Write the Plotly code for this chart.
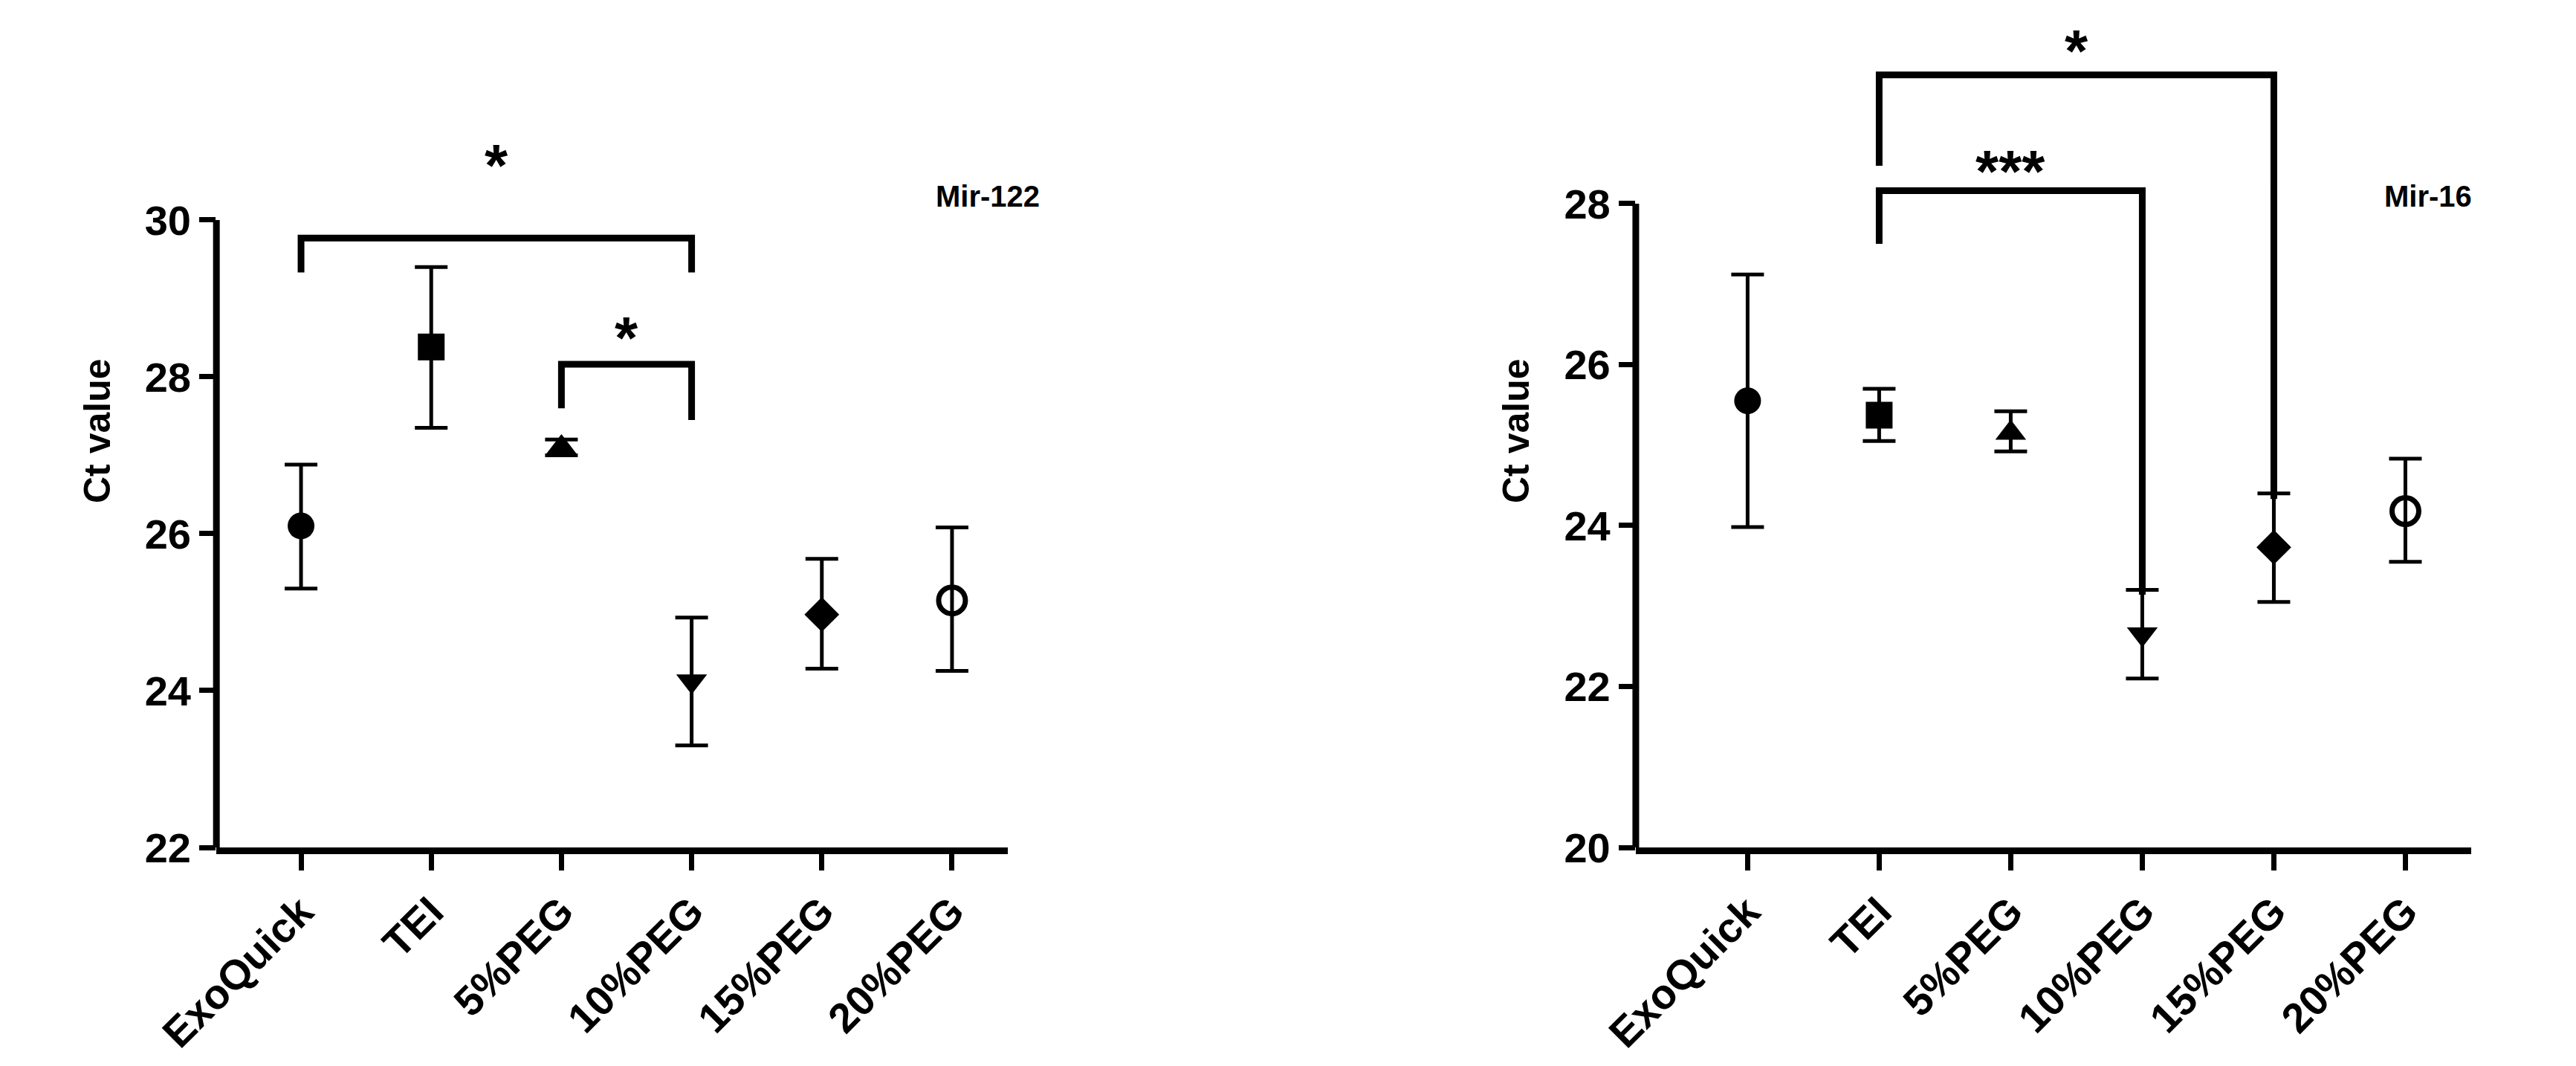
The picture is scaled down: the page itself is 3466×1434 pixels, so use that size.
import plotly.graph_objects as go

categories = ["ExoQuick", "TEI", "5%PEG", "10%PEG", "15%PEG", "20%PEG"]
symbols = ["circle", "square", "triangle-up", "triangle-down", "diamond", "circle-open"]

mir122_mean = [26.1, 28.38, 27.1, 24.12, 24.97, 25.15]
mir122_hi = [26.88, 29.4, 27.2, 24.93, 25.68, 26.08]
mir122_lo = [25.3, 27.35, 27.0, 23.3, 24.28, 24.25]

mir16_mean = [25.55, 25.37, 25.15, 22.65, 23.73, 24.18]
mir16_hi = [27.12, 25.7, 25.42, 23.2, 24.4, 24.83]
mir16_lo = [23.98, 25.05, 24.92, 22.1, 23.05, 23.55]

# brackets: (x1, x2, y_top, y_leg1, y_leg2, label, y_label)
brackets_122 = [(0, 3, 29.77, 29.33, 29.33, "*", 30.7), (2, 3, 28.16, 27.6, 27.45, "*", 28.5)]
brackets_16 = [(1, 4, 29.6, 28.47, 24.33, "*", 29.9), (1, 3, 28.16, 27.5, 23.14, "***", 28.4)]

fig = go.Figure()
BK = "black"
for i, (mean, hi, lo, xa, ya) in enumerate([(mir122_mean, mir122_hi, mir122_lo, "x", "y"),
                                             (mir16_mean, mir16_hi, mir16_lo, "x2", "y2")]):
    for j, c in enumerate(categories):
        fig.add_trace(go.Scatter(
            x=[j], y=[mean[j]], mode="markers", xaxis=xa, yaxis=ya, showlegend=False,
            marker=dict(symbol=symbols[j], size=36, color=BK,
                        line=dict(color=BK, width=7 if symbols[j] == "circle-open" else 0)),
            error_y=dict(type="data", symmetric=False, array=[hi[j] - mean[j]],
                         arrayminus=[mean[j] - lo[j]], color=BK, thickness=5, width=22)))

shapes = []
annos = []
for xr, yr, br, ymin, ymax in [("x", "y", brackets_122, 22, 30), ("x2", "y2", brackets_16, 20, 28)]:
    for (x1, x2, yt, l1, l2, lab, yl) in br:
        shapes.append(dict(type="path", xref=xr, yref=yr,
                           path=f"M {x1},{l1} L {x1},{yt} L {x2},{yt} L {x2},{l2}",
                           line=dict(color=BK, width=9)))
        annos.append(dict(x=(x1 + x2) / 2, y=yl, xref=xr, yref=yr, text=f"<b>{lab}</b>", showarrow=False,
                          font=dict(size=80, color=BK, family="Liberation Sans"), yanchor="middle"))
    shapes.append(dict(type="line", xref=xr + " domain", yref=yr, x0=0, x1=0, y0=ymin, y1=ymax,
                       line=dict(color=BK, width=9)))

annos.append(dict(x=0.381, y=0.838, xref="paper", yref="paper", text="<b>Mir-122</b>",
                  showarrow=False, font=dict(size=40, color=BK)))
annos.append(dict(x=0.958, y=0.838, xref="paper", yref="paper", text="<b>Mir-16</b>",
                  showarrow=False, font=dict(size=40, color=BK)))

tickfont = dict(size=56, color=BK, family="Liberation Sans")
xcommon = dict(tickmode="array", tickvals=list(range(6)), ticktext=[f"<b>{c}</b>" for c in categories],
               tickangle=-45, tickfont=tickfont, showline=True, linecolor=BK, linewidth=9,
               ticks="outside", ticklen=22, tickwidth=7, tickcolor=BK, showgrid=False, zeroline=False)
ycommon = dict(tickmode="array", tickfont=tickfont, showline=False, ticks="outside", ticklen=22,
               tickwidth=7, tickcolor=BK, showgrid=False, zeroline=False,
               title=dict(text="<b>Ct value</b>", font=dict(size=50, color=BK), standoff=30))

fig.update_layout(
    width=3466, height=1434, plot_bgcolor="white", paper_bgcolor="white",
    margin=dict(l=0, r=0, t=0, b=0, autoexpand=False),
    font=dict(family="Liberation Sans", color=BK),
    xaxis=dict(domain=[0.0817, 0.389], range=[-0.65, 5.43], anchor="y", **xcommon),
    yaxis=dict(domain=[0.2106, 0.992], range=[22, 32.62], anchor="x",
               tickvals=[22, 24, 26, 28, 30], ticktext=["<b>22</b>", "<b>24</b>", "<b>26</b>", "<b>28</b>", "<b>30</b>"],
               **ycommon),
    xaxis2=dict(domain=[0.6327, 0.957], range=[-0.85, 5.5], anchor="y2", **xcommon),
    yaxis2=dict(domain=[0.2106, 0.992], range=[20, 30.35], anchor="x2",
                tickvals=[20, 22, 24, 26, 28], ticktext=["<b>20</b>", "<b>22</b>", "<b>24</b>", "<b>26</b>", "<b>28</b>"],
                **ycommon),
    shapes=shapes, annotations=annos,
)
fig.write_html("out.html")
